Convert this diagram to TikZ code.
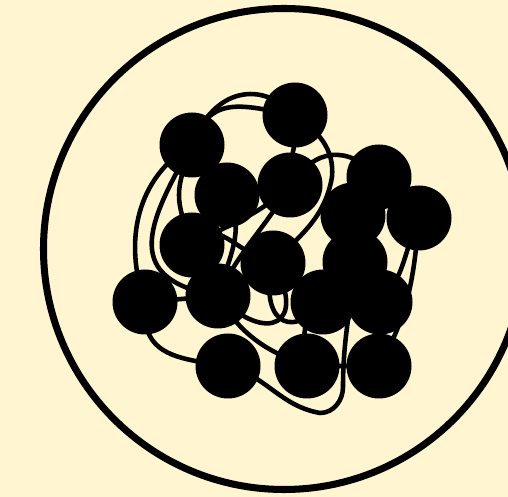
\documentclass[tikz,border=0pt]{standalone}
\usepackage{tikz}
\usepackage{xcolor}
\definecolor{cream}{RGB}{255,245,208}

\begin{document}
\begin{tikzpicture}[x=0.02cm, y=0.02cm,
  chain/.style={line width=2.6pt},
  bead/.style={fill=black}]
  \fill[cream] (0,0) rectangle (508,497);
  \useasboundingbox (0,0) rectangle (508,497);
  \clip (0,0) rectangle (508,497);

  \coordinate (O) at (284,248);
  \draw[line width=4pt] (O) circle[radius=240.5];

  \coordinate (M1) at (192,352);
  \coordinate (M2) at (295,382);
  \coordinate (M3) at (227,302);
  \coordinate (M4) at (290,312);
  \coordinate (M5) at (379,320);
  \coordinate (M6) at (419,279);
  \coordinate (M7) at (192,252);
  \coordinate (M8) at (273,234);
  \coordinate (M9) at (353,282);
  \coordinate (M10) at (355,235);
  \coordinate (M11) at (145,195);
  \coordinate (M12) at (218,201);
  \coordinate (M13) at (323,195);
  \coordinate (M14) at (380,195);
  \coordinate (M15) at (228,131);
  \coordinate (M16) at (307,131);
  \coordinate (M17) at (379,131);
  \coordinate (W) at (332,320);
  \coordinate (U) at (320,84);
  \coordinate (V) at (343,110);

  \draw[chain] (M8) to[out=45,in=-100] (W) to[out=85,in=-35] (M2)
    to[out=135,in=70,looseness=1.3] (M1) to[out=-150,in=110] (M11)
    to[out=-95,in=172,looseness=1.3] (M15) to[out=-15,in=170] (U)
    to[out=0,in=-90] (V) to[out=90,in=-95] (M10);
  \draw[chain] (M1) to[out=70,in=170,looseness=1.3] (M2) to[out=-80,in=95] (M4)
    to[out=55,in=135,looseness=1.3] (M5) -- (M6) to[out=-115,in=45] (M14);
  \draw[chain] (M6) to[out=-95,in=60] (M17);
  \draw[chain] (M12) to[out=-60,in=160] (M16);
  \draw[chain] (M12) to[out=-45,in=-60,looseness=2.8] (M8);
  \draw[chain] (M8) to[out=-105,in=-130,looseness=2.2] (M13) to[out=-150,in=100] (M16);
  \draw[chain] (M7) to[out=55,in=165,looseness=1.2] (M8);
  \draw[chain] (M4) to[out=-135,in=30] (M7);
  \draw[chain] (M4) to[out=-120,in=65] (M12);
  \draw[chain] (M1) to[out=-110,in=110,looseness=1.3] (M7);
  \draw[chain] (M1) to[out=-120,in=170,looseness=1.6] (M12);
  \draw[chain] (M3) to[out=-60,in=75] (M12);
  \draw[chain] (M5) -- (M9) -- (M10) -- (M14) -- (M17) (M16) -- (M17) (M11) -- (M12);

  \foreach \i in {1,...,17}
    \fill[bead] (M\i) circle[radius=32.5];
\end{tikzpicture}
\end{document}
